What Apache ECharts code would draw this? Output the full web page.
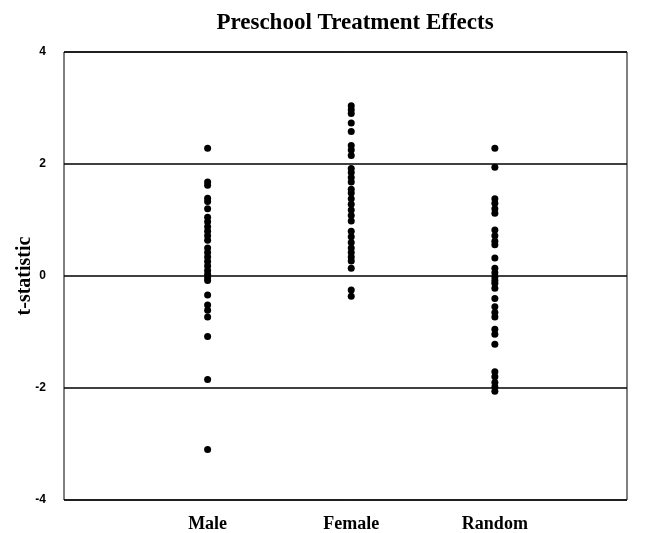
<!DOCTYPE html>
<html>
<head>
<meta charset="utf-8">
<script src="https://cdn.jsdelivr.net/npm/echarts@6/dist/echarts.min.js"></script>
<style>
  html, body { margin: 0; padding: 0; background: #fff; }
  #chart { width: 645px; height: 533px; }
</style>
</head>
<body>
<div id="chart"></div>
<script>
// groups on the x axis (position 1, 2, 3)
const groups = ['Male', 'Female', 'Random'];
const yTicks = [-4, -2, 0, 2, 4];

// t-statistics
const maleT = [2.28, 1.68, 1.62, 1.39, 1.33, 1.20, 1.05, 0.97, 0.88, 0.80, 0.72, 0.64,
  0.50, 0.42, 0.34, 0.26, 0.18, 0.10, 0.03, -0.03, -0.08, -0.34, -0.52, -0.61, -0.73,
  -1.08, -1.85, -3.10];
const femaleT = [3.04, 2.97, 2.90, 2.73, 2.58, 2.33, 2.25, 2.15, 1.92, 1.85, 1.76, 1.68,
  1.55, 1.48, 1.38, 1.28, 1.18, 1.08, 0.98, 0.80, 0.70, 0.60, 0.50, 0.42, 0.34, 0.27,
  0.14, -0.25, -0.36];
const randomT = [2.28, 1.94, 1.38, 1.30, 1.20, 1.12, 0.82, 0.72, 0.62, 0.56, 0.32, 0.14,
  0.06, -0.02, -0.08, -0.13, -0.22, -0.40, -0.55, -0.65, -0.73, -0.95, -1.04, -1.22,
  -1.71, -1.80, -1.90, -1.98, -2.06];

const allT = [maleT, femaleT, randomT];

const chart = echarts.init(document.getElementById('chart'));

chart.setOption({
  animation: false,
  title: {
    text: 'Preschool Treatment Effects',
    left: 350,
    top: 7,
    textAlign: 'center',
    textStyle: {
      fontFamily: 'Liberation Serif',
      fontSize: 23,
      fontWeight: 'bold',
      color: '#000',
    },
  },
  grid: {
    left: 64,
    right: 18,
    top: 52,
    bottom: 33,
    outerBoundsMode: 'none',
    containLabel: false,
    show: true,
    borderColor: '#000',
    borderWidth: 1,
  },
  xAxis: {
    type: 'value',
    min: 0,
    max: 3.92,
    interval: 1,
    axisLine: { show: false },
    axisTick: { show: false },
    splitLine: { show: false },
    axisLabel: {
      margin: 15,
      fontFamily: 'Liberation Serif',
      fontWeight: 'bold',
      fontSize: 18,
      color: '#000',
      formatter: (v) => groups[v - 1] || '',
    },
  },
  yAxis: {
    type: 'value',
    min: yTicks[0],
    max: yTicks[yTicks.length - 1],
    interval: 2,
    name: 't-statistic',
    nameLocation: 'middle',
    nameGap: 29,
    nameMoveOverlap: false,
    nameTextStyle: {
      fontFamily: 'Liberation Serif',
      fontSize: 20,
      fontWeight: 'bold',
      color: '#000',
    },
    axisLine: { show: false },
    axisTick: { show: false },
    splitLine: {
      show: true,
      lineStyle: { color: '#000', width: 1.5 },
    },
    axisLabel: {
      margin: 18,
      fontFamily: 'Liberation Sans',
      fontWeight: 'bold',
      fontSize: 12,
      color: '#000',
    },
  },
  series: allT.map((vals, i) => ({
    name: groups[i],
    type: 'scatter',
    symbol: 'circle',
    symbolSize: [7, 7],
    itemStyle: { color: '#000', opacity: 1 },
    data: vals.map((v) => [i + 1, v]),
  })),
});
</script>
</body>
</html>
